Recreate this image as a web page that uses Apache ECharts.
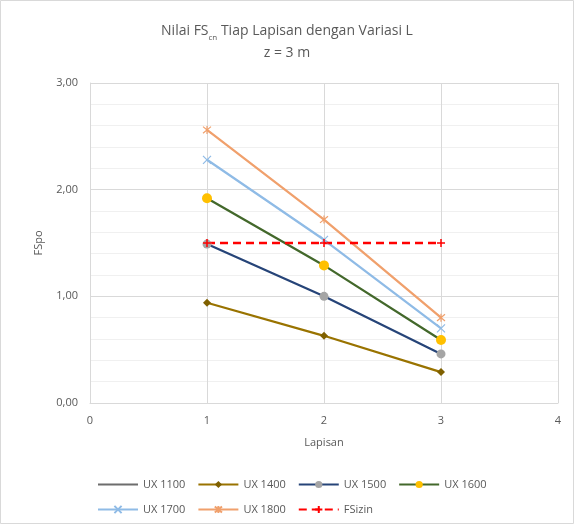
<!DOCTYPE html>
<html>
<head>
<meta charset="utf-8">
<script src="https://cdn.jsdelivr.net/npm/echarts@6/dist/echarts.min.js"></script>
<style>
html, body { margin: 0; padding: 0; background: #fff; }
#main { width: 574px; height: 524px; }
</style>
</head>
<body>
<div id="main"></div>
<script>
// data
var lapisan = [1, 2, 3];
var ux1100 = [];
var ux1400 = [0.94, 0.63, 0.29];
var ux1500 = [1.49, 1.00, 0.46];
var ux1600 = [1.92, 1.29, 0.59];
var ux1700 = [2.28, 1.53, 0.70];
var ux1800 = [2.56, 1.72, 0.80];
var fsIzin = [1.5, 1.5, 1.5];
var yTicks = [0, 1, 2, 3];

function pairs(vals) {
	var out = [];
	for (var i = 0; i < vals.length; i++) {
		out.push([lapisan[i], vals[i]]);
	}
	return out;
}

var FONT = 'Open Sans';
var TXT = '#595959';
var crossPath = 'path://M0,0L10,10M10,0L0,10';
var starPath = 'path://M0,0L10,10M10,0L0,10M5,-1L5,11';
var plusPath = 'path://M5,0L5,10M0,5L10,5';

var dom = document.getElementById('main');
var myChart = echarts.init(dom);

var option = {
	backgroundColor: '#fff',
	animation: false,
	textStyle: { fontFamily: FONT },
	title: {
		left: 'center',
		top: 15,
		text: '{a|Nilai FS}{b|cn}{a| Tiap Lapisan dengan Variasi L}\n{a|z = 3 m}',
		textStyle: {
			fontWeight: 'normal',
			rich: {
				a: { fontFamily: FONT, fontSize: 14, fontWeight: 'normal', color: TXT, lineHeight: 22 },
				b: { fontFamily: FONT, fontSize: 8, fontWeight: 'normal', color: TXT, verticalAlign: 'bottom', padding: [6, 0, 0, 0] }
			}
		}
	},
	graphic: [{
		type: 'rect',
		shape: { x: 0.5, y: 0.5, width: 573, height: 523 },
		style: { fill: 'none', stroke: '#d9d9d9', lineWidth: 1 },
		silent: true
	}],
	legend: [{
		left: 92,
		top: 474,
		itemWidth: 40,
		itemHeight: 9,
		itemGap: 12,
		textStyle: { color: TXT, fontSize: 11, fontFamily: FONT },
		data: [{ name: 'UX 1100', itemStyle: { opacity: 0 } }, 'UX 1400', 'UX 1500', 'UX 1600']
	}, {
		left: 92,
		top: 499,
		itemWidth: 40,
		itemHeight: 9,
		itemGap: 12,
		textStyle: { color: TXT, fontSize: 11, fontFamily: FONT },
		data: ['UX 1700', 'UX 1800', 'FSizin']
	}],
	grid: {
		left: 90,
		right: 16,
		top: 83,
		bottom: 121
	},
	xAxis: {
		type: 'value',
		min: 0,
		max: 4,
		interval: 1,
		name: 'Lapisan',
		nameLocation: 'middle',
		nameGap: 34,
		nameTextStyle: { color: TXT, fontSize: 11 },
		axisLine: { show: true, lineStyle: { color: '#d9d9d9' } },
		axisTick: { show: false },
		axisLabel: { color: TXT, fontSize: 11, margin: 12 },
		splitLine: { show: true, lineStyle: { color: '#d9d9d9', width: 1 } }
	},
	yAxis: {
		type: 'value',
		min: yTicks[0],
		max: yTicks[yTicks.length - 1],
		interval: 1,
		name: 'FSpo',
		nameLocation: 'middle',
		nameGap: 46,
		nameTextStyle: { color: TXT, fontSize: 11 },
		axisLine: { show: true, lineStyle: { color: '#d9d9d9' } },
		axisTick: { show: false },
		axisLabel: {
			color: TXT,
			fontSize: 11,
			margin: 12,
			formatter: function (v) { return v.toFixed(2).replace('.', ','); }
		},
		splitLine: { show: true, lineStyle: { color: '#d9d9d9', width: 1 } },
		minorTick: { show: false, splitNumber: 5 },
		minorSplitLine: { show: true, lineStyle: { color: '#f0f0f0', width: 1 } }
	},
	series: [{
		name: 'UX 1100',
		type: 'line',
		data: pairs(ux1100),
		symbol: 'none',
		color: '#6d6d6d',
		lineStyle: { width: 2.25, color: '#6d6d6d' }
	}, {
		name: 'UX 1400',
		type: 'line',
		data: pairs(ux1400),
		symbol: 'diamond',
		symbolSize: 8,
		color: '#997300',
		lineStyle: { width: 2.25, color: '#997300' },
		itemStyle: { color: '#7f6000' }
	}, {
		name: 'UX 1500',
		type: 'line',
		data: pairs(ux1500),
		symbol: 'circle',
		symbolSize: 9,
		color: '#264478',
		lineStyle: { width: 2.25, color: '#264478' },
		itemStyle: { color: '#a5a5a5' }
	}, {
		name: 'UX 1600',
		type: 'line',
		data: pairs(ux1600),
		symbol: 'circle',
		symbolSize: 10,
		color: '#43682b',
		lineStyle: { width: 2.25, color: '#43682b' },
		itemStyle: { color: '#ffc000' }
	}, {
		name: 'UX 1700',
		type: 'line',
		data: pairs(ux1700),
		symbol: crossPath,
		symbolSize: 8,
		color: '#8fbbe6',
		lineStyle: { width: 2.25, color: '#8fbbe6' },
		itemStyle: { color: 'transparent', borderColor: '#8fbbe6', borderWidth: 1.2 }
	}, {
		name: 'UX 1800',
		type: 'line',
		data: pairs(ux1800),
		symbol: starPath,
		symbolSize: 8,
		color: '#f0a06c',
		lineStyle: { width: 2.25, color: '#f0a06c' },
		itemStyle: { color: 'transparent', borderColor: '#f0a06c', borderWidth: 1.2 }
	}, {
		name: 'FSizin',
		type: 'line',
		data: pairs(fsIzin),
		symbol: plusPath,
		symbolSize: 8,
		color: '#ff0000',
		lineStyle: { width: 2.5, color: '#ff0000', type: [8, 5] },
		itemStyle: { color: 'transparent', borderColor: '#ff0000', borderWidth: 1.5 }
	}]
};

myChart.setOption(option);
</script>
</body>
</html>
